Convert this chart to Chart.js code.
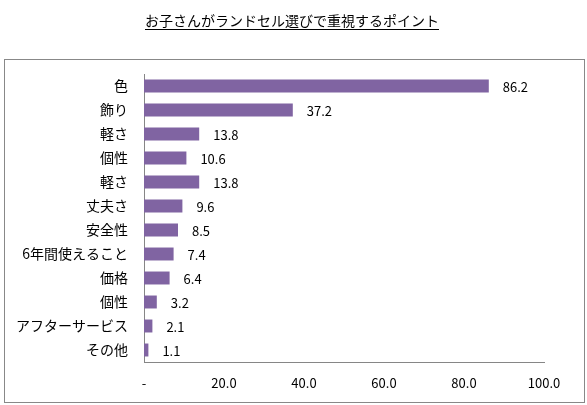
<!DOCTYPE html>
<html><head><meta charset="utf-8">
<script src="https://cdn.jsdelivr.net/npm/chart.js@4/dist/chart.umd.min.js"></script>
<style>html,body{margin:0;padding:0;background:#fff}#wrap{width:587px;height:405px;position:relative}</style>
</head><body><div id="wrap"><canvas id="c" width="587" height="405"></canvas></div>
<script>
const titleText = 'お子さんがランドセル選びで重視するポイント';
const categories = ['色','飾り','軽さ','個性','軽さ','丈夫さ','安全性','6年間使えること','価格','個性','アフターサービス','その他'];
const values = [86.2,37.2,13.8,10.6,13.8,9.6,8.5,7.4,6.4,3.2,2.1,1.1];
const xTicks = [0,20,40,60,80,100];

const jp = '"Noto Sans CJK JP", "Noto Sans", sans-serif';

const deco = {
  id: 'deco',
  afterDraw(chart) {
    const ctx = chart.ctx;
    ctx.save();
    // outer box
    ctx.strokeStyle = '#888888';
    ctx.lineWidth = 1;
    ctx.strokeRect(4.5, 59.5, 580, 343);
    // title
    ctx.font = '14px ' + jp;
    ctx.fillStyle = '#000';
    ctx.textAlign = 'center';
    ctx.textBaseline = 'middle';
    const cx = 292;
    ctx.fillText(titleText, cx, 21);
    const w = ctx.measureText(titleText).width;
    ctx.beginPath();
    ctx.moveTo(cx - w / 2, 29.5);
    ctx.lineTo(cx + w / 2, 29.5);
    ctx.strokeStyle = '#000';
    ctx.stroke();
    // value labels
    const meta = chart.getDatasetMeta(0);
    ctx.font = '13px ' + jp;
    ctx.textAlign = 'left';
    meta.data.forEach((bar, i) => {
      ctx.fillText(values[i].toFixed(1), bar.x + 14, bar.y + 1);
    });
    ctx.restore();
  }
};

new Chart(document.getElementById('c'), {
  type: 'bar',
  data: {
    labels: categories,
    datasets: [{
      data: values,
      backgroundColor: '#8064A2',
      borderWidth: 0,
      barPercentage: 0.54,
      categoryPercentage: 1
    }]
  },
  options: {
    indexAxis: 'y',
    responsive: false,
    animation: false,
    devicePixelRatio: 1,
    layout: { padding: { left: 0, right: 43, top: 74, bottom: 0 } },
    plugins: { legend: { display: false }, title: { display: false }, tooltip: { enabled: false } },
    scales: {
      x: {
        min: 0, max: 100,
        afterFit(s) { s.height = 43; },
        afterBuildTicks(s) { s.ticks = xTicks.map(v => ({ value: v })); },
        grid: { display: false, drawTicks: false },
        border: { display: true, color: '#868686', width: 1 },
        ticks: {
          padding: 13,
          color: '#000',
          font: { family: jp, size: 13 },
          maxRotation: 0,
          callback: v => v === 0 ? '-' : Number(v).toFixed(1)
        }
      },
      y: {
        afterFit(s) { s.width = 144; },
        grid: { display: false, drawTicks: false },
        border: { display: true, color: '#868686', width: 1 },
        ticks: {
          padding: 16,
          color: '#000',
          font: { family: jp, size: 14 },
          autoSkip: false
        }
      }
    }
  },
  plugins: [deco]
});
</script></body></html>
